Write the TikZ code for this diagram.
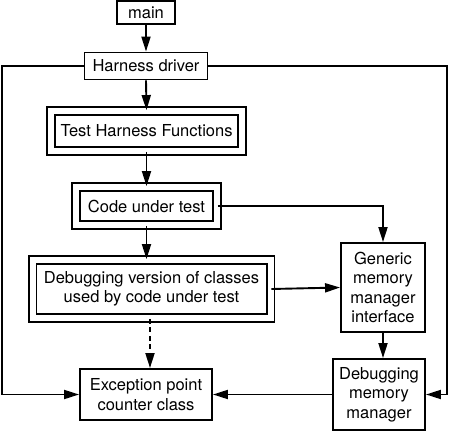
\documentclass[tikz,border=0pt]{standalone}
\usepackage{fontspec}
\setmainfont{TeX Gyre Heros}
\usepackage{tikz}
\usetikzlibrary{arrows.meta}

\begin{document}
\begin{tikzpicture}[
        x=1pt,
        y=-1pt,
        flow/.style={-{Triangle[length=15pt,width=9pt]}, line width=1.9pt},
        plainbox/.style={draw, line width=1.9pt, inner sep=0pt, align=center},
        mainbox/.style={plainbox, line width=2.8pt},
        dblbox/.style={draw, double, double distance=6pt, line width=1.9pt, inner sep=0pt, align=center},
        every node/.style={font=\fontsize{16.5}{19.5}\selectfont}
      ]
        \useasboundingbox (0,0) rectangle (450,431);

        \node[mainbox, minimum width=58pt, minimum height=23pt] (main) at (146,12.5) {main};
        \node[plainbox, minimum width=123pt, minimum height=27pt] (driver) at (146,66) {Harness driver};
        \node[dblbox, minimum width=191pt, minimum height=40pt] (thf) at (146.5,131) {Test Harness Functions};
        \node[dblbox, minimum width=141pt, minimum height=38pt] (code) at (146.5,206) {Code under test};
        \node[dblbox, minimum width=238pt, minimum height=58pt] (debugver) at (151.5,289) {Debugging version of classes\\used by code under test};
        \node[plainbox, minimum width=84pt, minimum height=89pt] (generic) at (383,287.5) {Generic\\memory\\manager\\interface};
        \node[plainbox, minimum width=132pt, minimum height=51pt] (excp) at (146,394.5) {Exception point\\counter class};
        \node[plainbox, minimum width=92pt, minimum height=71pt] (dmm) at (379,394.5) {Debugging\\memory\\manager};

        \coordinate (lturn) at (2,66);
        \coordinate (rturn) at (447,66);

        \draw[flow] (main.south) -- (driver.north);
        \draw[flow] (driver.south) -- (thf.north);
        \draw[flow] (thf.south) -- (code.north);
        \draw[flow] (code.south) -- (code.south |- debugver.north);
        \draw[flow, dash pattern=on 5pt off 3.5pt] ([xshift=-1.5pt]debugver.south) -- ([xshift=-1.5pt]debugver.south |- excp.north);
        \draw[flow] (code.east) -| (generic.north);
        \draw[flow] (debugver.east) -- (generic.west);
        \draw[flow] (generic.south) -- (generic.south |- dmm.north);
        \draw[flow] (dmm.west) -- (excp.east);
        \draw[flow] (driver.west) -- (lturn) |- (excp.west);
        \draw[flow] (driver.east) -- (rturn) |- (dmm.east);
      \end{tikzpicture}
\end{document}
